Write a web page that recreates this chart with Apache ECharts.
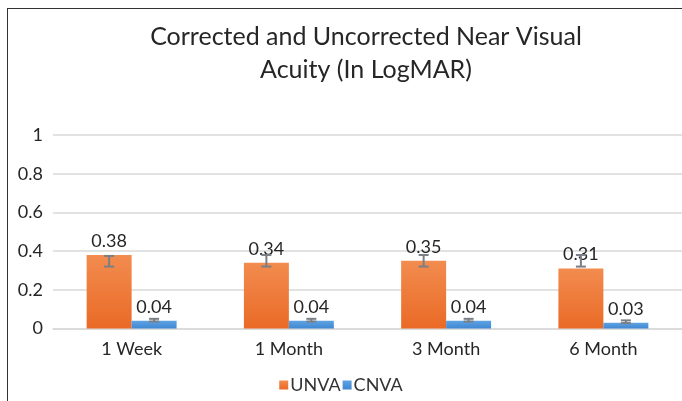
<!DOCTYPE html>
<html>
<head>
<meta charset="utf-8">
<script src="https://cdn.jsdelivr.net/npm/echarts@6/dist/echarts.min.js"></script>
<style>
  html, body { margin: 0; padding: 0; background: #fff; }
  #frame { position: absolute; left: 7px; top: 8px; width: 700px; height: 420px; border: 1.5px solid #333; box-sizing: border-box; }
  #chart { position: absolute; left: 0; top: 0; width: 682px; height: 401px; }
</style>
</head>
<body>
<div id="frame"></div>
<div id="chart"></div>
<script>
var categories = ['1 Week', '1 Month', '3 Month', '6 Month'];
var unva = [0.38, 0.34, 0.35, 0.31];
var cnva = [0.04, 0.04, 0.04, 0.03];
// error bar ends [low, high] as drawn in the picture
var unvaErr = [[0.32, 0.375], [0.32, 0.38], [0.32, 0.38], [0.32, 0.38]];
var cnvaErr = [[0.036, 0.05], [0.036, 0.05], [0.036, 0.05], [0.028, 0.042]];
var yTicks = [0, 0.2, 0.4, 0.6, 0.8, 1];

var font = 'Lato, "Open Sans", sans-serif';
var chart = echarts.init(document.getElementById('chart'));

function errorSeries(name, errs, shift) {
    return {
        name: name + ' err',
        type: 'custom',
        z: 5,
        silent: true,
        data: errs.map(function (e, i) { return [i, e[0], e[1]]; }),
        renderItem: function (params, api) {
            var band = api.size([1, 0])[0];
            var lo = api.coord([api.value(0), api.value(1)]);
            var hi = api.coord([api.value(0), api.value(2)]);
            var x = lo[0] + band * shift;
            var cap = 5;
            var st = { stroke: '#7a7f86', lineWidth: 2 };
            return {
                type: 'group',
                children: [
                    { type: 'line', shape: { x1: x, y1: lo[1], x2: x, y2: hi[1] }, style: st },
                    { type: 'line', shape: { x1: x - cap, y1: lo[1], x2: x + cap, y2: lo[1] }, style: st },
                    { type: 'line', shape: { x1: x - cap, y1: hi[1], x2: x + cap, y2: hi[1] }, style: st }
                ]
            };
        }
    };
}

var option = {
    animation: false,
    title: {
        text: 'Corrected and Uncorrected Near Visual\nAcuity (In LogMAR)',
        left: 361,
        top: 15,
        textAlign: 'center',
        textStyle: { fontFamily: font, fontSize: 25, fontWeight: 'normal', color: '#262626', lineHeight: 33 }
    },
    legend: {
        data: ['UNVA', 'CNVA'],
        left: 'center',
        top: 371,
        itemWidth: 9,
        itemHeight: 9,
        itemGap: 2,
        icon: 'rect',
        textStyle: { fontFamily: font, fontSize: 18, color: '#333', padding: [0, 0, 0, -3] }
    },
    grid: { left: 53, right: 0, top: 135, bottom: 72.5 },
    xAxis: {
        type: 'category',
        data: categories,
        axisLine: { show: true, lineStyle: { color: '#d9d9d9', width: 1.5 } },
        axisTick: { show: false },
        axisLabel: { fontFamily: font, fontSize: 18, color: '#262626', margin: 12 }
    },
    yAxis: {
        type: 'value',
        min: yTicks[0],
        max: yTicks[yTicks.length - 1],
        interval: 0.2,
        axisLine: { show: false },
        axisTick: { show: false },
        splitLine: { lineStyle: { color: '#d9d9d9', width: 1.5 } },
        axisLabel: { fontFamily: font, fontSize: 18, color: '#262626', margin: 10 }
    },
    series: [
        {
            name: 'UNVA',
            type: 'bar',
            data: unva,
            barWidth: '28.6%',
            barGap: '0%',
            itemStyle: {
                color: new echarts.graphic.LinearGradient(0, 0, 0, 1, [
                    { offset: 0, color: '#f28c4f' },
                    { offset: 1, color: '#ea6a26' }
                ])
            },
            label: { show: true, position: 'top', distance: 5, fontFamily: font, fontSize: 18, color: '#262626' }
        },
        {
            name: 'CNVA',
            type: 'bar',
            data: cnva,
            barWidth: '28.6%',
            itemStyle: {
                color: new echarts.graphic.LinearGradient(0, 0, 0, 1, [
                    { offset: 0, color: '#5fa3e3' },
                    { offset: 1, color: '#3f87d2' }
                ])
            },
            label: { show: true, position: 'top', distance: 5, fontFamily: font, fontSize: 18, color: '#262626' }
        },
        errorSeries('UNVA', unvaErr, -0.143),
        errorSeries('CNVA', cnvaErr, 0.143)
    ]
};
chart.setOption(option);
</script>
</body>
</html>
